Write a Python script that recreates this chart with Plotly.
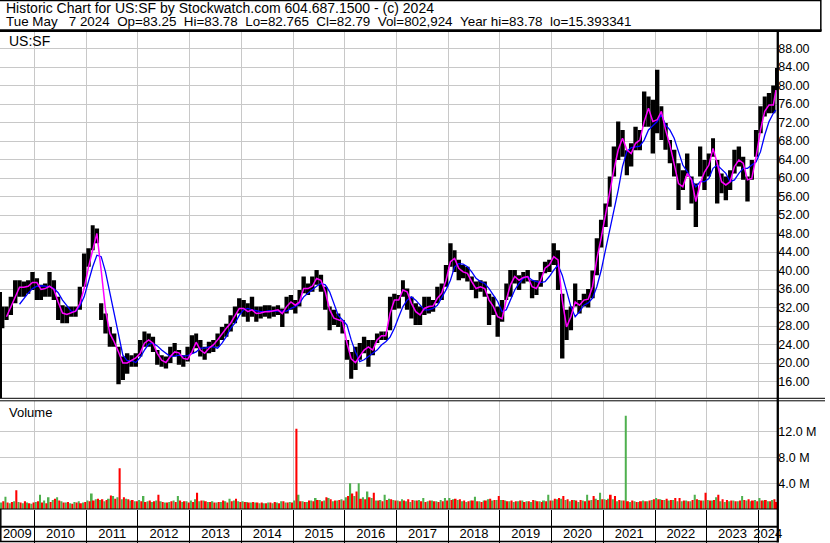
import pandas as pd
import plotly.graph_objects as go

# ------------------------------------------------------------------
# Data, one value per month (May 2009 .. May 2024)
# ------------------------------------------------------------------
MONTHS = pd.date_range("2009-05-01", "2024-05-01", freq="MS")
LAST_DAY = pd.Timestamp("2024-05-08")   # data ends on Tue May 7 2024

# visible high / low envelope of the daily bars in each month
HI = [
    32.2, 32.2, 34.3, 37.9, 37.9, 37.6, 37.9, 39.7,
    38.3, 36.9, 37.2, 39.7, 37.9, 34.3, 32.5, 32.2, 32.2, 32.2, 36.5, 43.7,
    44.8, 49.8, 49.1, 32.9, 30.7, 27.8, 26.4, 23.5, 21.4, 22.1, 21.7, 22.1,
    25.0, 26.8, 26.4, 25.7, 22.8, 21.7, 21.4, 23.5, 24.3, 22.8, 21.7, 23.5,
    26.0, 26.4, 25.0, 23.5, 24.6, 25.0, 26.4, 27.8, 28.5, 30.3, 32.2, 34.0,
    33.6, 32.9, 34.3, 32.2, 32.2, 32.5, 32.5, 32.2, 32.5, 31.8, 34.3, 34.7,
    33.6, 35.8, 38.7, 37.2, 38.7, 40.1, 39.1, 36.5, 32.2, 31.5, 30.7, 29.3,
    25.0, 22.4, 23.5, 24.3, 25.7, 25.0, 25.0, 26.4, 26.8, 26.8, 34.3, 35.0,
    34.7, 37.9, 36.1, 34.3, 32.9, 32.2, 34.3, 34.3, 33.6, 36.5, 37.2, 41.2,
    45.9, 44.4, 42.3, 41.2, 40.8, 38.7, 37.6, 37.9, 37.6, 35.0, 34.3, 32.2,
    33.6, 37.2, 40.1, 40.1, 39.0, 39.7, 40.1, 37.9, 37.9, 39.7, 41.9, 42.3,
    45.9, 44.4, 35.0, 31.5, 32.2, 37.2, 33.6, 35.0, 36.0, 40.0, 47.0, 51.0,
    54.5, 60.3, 66.8, 72.2, 70.4, 66.0, 67.5, 71.1, 70.4, 78.7, 77.6, 76.9,
    83.4, 75.5, 71.9, 68.2, 66.1, 63.2, 61.7, 65.3, 60.3, 58.8, 66.8, 63.9,
    65.3, 68.6, 63.9, 61.0, 60.3, 61.7, 66.1, 66.8, 64.6, 60.3, 63.9, 70.4,
    75.5, 77.6, 78.4, 80.0, 83.8,
]
LO = [
    27.5, 29.3, 30.4, 32.9, 34.3, 34.3, 35.0, 35.8,
    33.6, 33.6, 34.3, 34.3, 33.6, 29.3, 28.6, 28.6, 30.0, 30.0, 31.5, 36.5,
    40.8, 44.4, 45.9, 29.3, 26.4, 23.5, 23.5, 15.4, 16.3, 17.7, 19.2, 19.2,
    21.4, 23.5, 23.5, 22.4, 19.6, 19.2, 18.8, 20.0, 21.4, 19.6, 19.2, 20.3,
    22.1, 23.2, 21.4, 20.7, 22.1, 22.4, 23.5, 25.0, 25.7, 26.8, 28.6, 30.7,
    30.0, 28.9, 30.0, 28.9, 29.6, 30.0, 29.6, 30.0, 30.4, 27.8, 30.7, 31.5,
    30.7, 32.2, 35.1, 34.7, 35.4, 36.9, 35.4, 31.5, 27.1, 28.2, 27.8, 26.4,
    20.7, 16.6, 18.5, 20.7, 22.1, 19.2, 21.7, 24.3, 25.0, 25.0, 27.1, 31.5,
    31.8, 34.3, 31.5, 29.6, 28.2, 28.2, 30.4, 30.7, 31.1, 32.9, 33.6, 36.5,
    40.8, 39.7, 37.9, 38.3, 37.6, 35.8, 34.0, 35.4, 34.3, 28.2, 30.4, 25.7,
    28.9, 33.6, 34.3, 37.2, 35.8, 37.2, 37.6, 34.0, 34.7, 36.5, 39.4, 39.7,
    41.2, 35.8, 21.0, 25.0, 27.1, 32.2, 30.7, 32.2, 32.0, 34.0, 39.0, 45.0,
    49.4, 53.8, 60.3, 63.9, 64.6, 60.6, 62.5, 66.0, 66.0, 71.1, 71.1, 65.3,
    69.7, 68.2, 66.1, 63.2, 60.3, 53.1, 57.4, 60.3, 54.5, 49.4, 60.3, 57.4,
    60.3, 64.6, 54.5, 56.7, 55.2, 57.4, 61.0, 62.5, 59.6, 54.9, 59.6, 64.6,
    69.7, 73.3, 74.0, 74.0, 79.0,
]

# short moving average (magenta)
MA_FAST = [
    None, 30.0, 32.2, 34.3, 36.4, 36.4, 36.6, 37.4,
    37.4, 35.9, 36.1, 36.6, 35.9, 33.2, 30.8, 30.5, 30.8, 31.2, 32.8, 36.1,
    40.8, 44.4, 48.0, 40.0, 31.5, 26.4, 24.6, 22.4, 20.0, 20.0, 20.5, 21.1,
    22.1, 24.3, 25.0, 24.3, 22.1, 20.6, 20.1, 21.4, 22.4, 22.2, 21.0, 20.8,
    22.4, 24.5, 22.8, 22.1, 23.2, 23.9, 25.0, 26.4, 27.5, 28.6, 30.3, 31.8,
    31.8, 31.1, 31.5, 30.7, 30.8, 31.1, 31.1, 31.3, 31.5, 30.7, 32.2, 33.2,
    32.5, 33.2, 36.1, 36.1, 36.6, 38.3, 37.9, 35.4, 31.5, 29.7, 29.3, 29.0,
    24.3, 20.9, 20.1, 21.4, 22.8, 23.5, 22.8, 25.0, 25.9, 25.9, 30.7, 33.6,
    33.6, 35.8, 35.4, 32.9, 31.1, 30.4, 31.8, 32.2, 32.3, 34.0, 35.1, 37.9,
    41.9, 42.6, 40.5, 39.7, 39.4, 37.6, 36.1, 36.5, 36.1, 33.6, 32.2, 30.0,
    29.6, 33.6, 36.9, 38.7, 37.9, 38.5, 38.7, 36.5, 36.1, 37.9, 40.5, 41.2,
    43.0, 42.3, 33.6, 27.8, 30.0, 33.2, 32.5, 33.6, 33.8, 36.5, 42.5, 47.0,
    52.3, 56.7, 61.7, 66.1, 68.6, 66.1, 65.3, 67.5, 68.2, 72.2, 75.1, 72.2,
    72.6, 74.4, 70.4, 67.2, 63.2, 58.8, 58.1, 61.0, 59.6, 54.9, 58.8, 61.3,
    62.8, 66.4, 63.2, 59.2, 58.5, 59.2, 62.5, 63.9, 63.2, 59.6, 59.9, 64.6,
    70.4, 74.4, 75.8, 75.8, 79.0,
]

# long moving average (blue)
MA_SLOW = [
    None, None, None, None, 32.7, 34.0, 35.1, 36.1,
    36.6, 36.7, 36.6, 36.5, 36.1, 35.2, 33.6, 32.3, 31.2, 31.1, 32.3, 34.3,
    37.6, 40.8, 43.3, 43.0, 39.7, 35.1, 30.7, 25.7, 21.7, 20.5, 20.5, 20.1,
    21.2, 22.8, 24.1, 24.3, 23.7, 22.8, 22.0, 21.4, 21.5, 21.7, 21.5, 21.6,
    22.0, 22.4, 23.2, 23.2, 23.5, 23.5, 23.2, 24.3, 25.7, 27.5, 28.6, 30.3,
    31.5, 31.8, 31.5, 31.3, 31.1, 31.1, 31.3, 31.2, 31.2, 31.1, 31.2, 31.8,
    32.2, 32.9, 34.3, 35.1, 35.9, 36.6, 37.2, 36.9, 35.4, 32.9, 30.3, 29.3,
    28.2, 25.0, 22.4, 20.3, 20.7, 21.4, 22.1, 22.8, 23.9, 24.6, 25.6, 27.5,
    30.0, 32.2, 33.6, 34.3, 33.6, 32.5, 31.5, 31.5, 31.8, 32.5, 34.0, 35.8,
    37.9, 40.8, 41.5, 41.4, 40.8, 39.7, 38.3, 37.6, 37.2, 36.1, 34.7, 33.3,
    31.1, 31.5, 33.6, 35.8, 37.2, 38.3, 38.7, 37.9, 37.6, 37.4, 37.6, 38.7,
    40.1, 41.2, 39.0, 35.8, 32.2, 30.0, 31.1, 32.5, 33.0, 34.0, 36.5, 40.0,
    44.4, 48.4, 53.1, 57.4, 62.5, 65.7, 66.6, 66.8, 66.9, 68.2, 70.4, 71.3,
    72.2, 73.7, 71.5, 70.4, 68.6, 65.7, 62.8, 61.4, 59.9, 58.1, 59.2, 59.2,
    59.9, 62.1, 62.8, 61.9, 61.0, 59.2, 59.6, 61.0, 62.1, 62.1, 62.8, 63.5,
    65.7, 69.3, 72.2, 74.0, 74.7,
]

# tallest up-day (green) and down-day (red) volume bar in each month, millions
VOL_UP = [
    1.0, 1.9, 0.9, 1.2, 1.1, 0.9, 1.0, 0.8,
    1.1, 2.2, 1.3, 1.8, 1.4, 1.8, 1.2, 1.0, 0.9, 1.1, 1.2, 1.0,
    1.3, 2.4, 1.5, 1.4, 1.2, 1.6, 2.0, 1.8, 1.5, 1.6, 1.3, 1.2,
    1.4, 2.0, 1.2, 1.1, 1.3, 1.2, 1.0, 1.1, 1.3, 2.0, 1.1, 1.2,
    1.3, 1.5, 1.2, 1.3, 1.1, 1.2, 1.0, 1.1, 1.2, 1.6, 1.3, 1.2,
    1.2, 1.1, 1.0, 1.0, 0.9, 0.9, 1.0, 0.9, 1.0, 1.2, 1.0, 1.1,
    1.3, 2.2, 1.2, 1.1, 1.3, 1.7, 1.4, 1.3, 1.7, 1.2, 1.3, 1.5,
    1.8, 4.0, 2.0, 4.0, 1.8, 2.7, 1.7, 1.3, 1.4, 2.2, 1.6, 1.4,
    1.3, 1.5, 1.2, 1.1, 1.3, 1.4, 1.7, 1.2, 1.3, 1.2, 1.4, 1.7,
    1.7, 1.5, 1.4, 1.2, 1.1, 1.3, 1.9, 1.2, 1.3, 1.5, 1.3, 1.4,
    1.4, 1.3, 1.2, 1.1, 1.2, 1.3, 1.2, 1.1, 1.3, 1.2, 1.3, 2.2,
    1.3, 1.5, 1.6, 1.4, 1.2, 1.4, 1.1, 1.3, 2.2, 1.4, 1.6, 2.5,
    1.5, 1.6, 1.5, 1.2, 1.3, 14.4, 1.1, 1.2, 1.1, 1.3, 1.2, 1.4,
    1.7, 1.5, 1.4, 1.3, 1.4, 1.2, 1.2, 1.3, 1.2, 2.2, 1.4, 1.3,
    1.4, 1.3, 1.8, 1.2, 1.1, 1.2, 1.3, 1.2, 2.0, 1.3, 1.2, 1.4,
    1.7, 1.3, 1.2, 1.4, 1.0,
]
VOL_DN = [
    1.2, 1.0, 1.1, 2.9, 1.0, 1.2, 0.9, 1.0,
    1.2, 1.0, 0.9, 1.1, 1.6, 1.3, 1.0, 1.1, 0.8, 1.0, 0.9, 1.1,
    1.2, 1.3, 1.6, 1.5, 1.4, 2.1, 1.6, 6.3, 1.8, 1.5, 1.4, 1.2,
    1.2, 1.1, 1.3, 1.2, 2.2, 1.1, 1.0, 1.2, 1.1, 1.3, 1.2, 1.0,
    1.1, 2.5, 1.3, 1.2, 1.1, 1.0, 1.1, 1.3, 1.0, 1.2, 1.6, 1.1,
    1.1, 1.0, 1.1, 1.0, 1.0, 0.9, 1.0, 1.1, 0.9, 1.2, 1.0, 1.0,
    12.4, 1.2, 1.1, 1.3, 1.2, 1.4, 1.2, 1.8, 1.5, 1.3, 1.4, 1.3,
    2.0, 2.4, 2.7, 1.6, 1.5, 1.8, 2.5, 1.3, 1.2, 1.4, 1.5, 1.3,
    1.2, 1.3, 1.5, 1.4, 1.3, 1.2, 1.1, 1.3, 1.2, 1.1, 1.2, 1.3,
    1.4, 1.6, 1.5, 1.3, 1.2, 1.3, 1.2, 1.1, 1.3, 1.6, 1.4, 2.0,
    1.4, 1.2, 1.3, 1.2, 1.3, 1.1, 1.2, 1.4, 1.2, 1.1, 1.2, 1.3,
    1.6, 1.7, 2.0, 1.5, 1.4, 1.3, 1.4, 1.2, 1.3, 2.0, 1.4, 1.5,
    1.4, 2.2, 2.0, 1.4, 1.3, 1.2, 1.3, 1.1, 1.2, 1.2, 1.3, 1.5,
    1.5, 1.4, 1.6, 1.4, 1.7, 1.7, 1.3, 1.2, 1.4, 1.5, 1.3, 2.5,
    1.3, 1.4, 2.2, 1.5, 1.4, 1.3, 1.2, 1.3, 1.4, 1.5, 1.3, 1.2,
    1.3, 1.4, 1.2, 1.5, 1.1,
]

PRICE_TICKS = list(range(16, 89, 4))
VOL_TICKS = [4, 8, 12]
YEARS = list(range(2009, 2025))

TITLE = "Historic Chart for US:SF by Stockwatch.com 604.687.1500 - (c) 2024"
NB = "\u00a0"
SUBTITLE = (f"Tue May{NB*3}7 2024{NB*2}Op=83.25{NB*2}Hi=83.78{NB*2}Lo=82.765"
            f"{NB*2}Cl=82.79{NB*2}Vol=802,924{NB*2}Year hi=83.78{NB*2}lo=15.393341")

# ------------------------------------------------------------------
# Layout constants (pixels of the 830 x 543 picture)
# ------------------------------------------------------------------
W, H = 830, 543
X_RIGHT = 782.0
X_START = pd.Timestamp("2009-05-01")
X_END = pd.Timestamp("2024-05-14")
DAY_MS = 86400000
FONT = "Arial, 'Liberation Sans', sans-serif"
GRID = "#c8c8c8"
GREEN = "#4fb04f"
RED = "#ff0000"


def px(x):
    return x / W


def py(y):
    return 1 - y / H


# each month's span on the time axis (the last month stops at the last trading day)
starts = list(MONTHS)
ends = [min(s + pd.offsets.MonthBegin(1), LAST_DAY) for s in starts]
spans = [e - s for s, e in zip(starts, ends)]
mid = [s + d / 2 for s, d in zip(starts, spans)]
span_ms = [d.total_seconds() * 1000 for d in spans]

fig = go.Figure()

# price bars (high-low envelope)
fig.add_trace(go.Bar(
    x=mid, y=[h - l for h, l in zip(HI, LO)], base=LO,
    width=span_ms, marker=dict(color="black", line=dict(width=0)),
    xaxis="x2", yaxis="y", hoverinfo="skip",
))
fig.add_trace(go.Scatter(
    x=mid, y=MA_SLOW, mode="lines", line=dict(color="#0000ff", width=1.3),
    xaxis="x2", yaxis="y", hoverinfo="skip",
))
fig.add_trace(go.Scatter(
    x=mid, y=MA_FAST, mode="lines", line=dict(color="#ff00ff", width=1.5),
    xaxis="x2", yaxis="y", hoverinfo="skip",
))

# volume bars: up days in the first half of each month, down days in the second
fig.add_trace(go.Bar(
    x=[s + d / 4 for s, d in zip(starts, spans)], y=VOL_UP,
    width=[w * 0.47 for w in span_ms],
    marker=dict(color=GREEN, line=dict(width=0)),
    xaxis="x", yaxis="y2", hoverinfo="skip",
))
fig.add_trace(go.Bar(
    x=[s + d * 3 / 4 for s, d in zip(starts, spans)], y=VOL_DN,
    width=[w * 0.47 for w in span_ms],
    marker=dict(color=RED, line=dict(width=0)),
    xaxis="x", yaxis="y2", hoverinfo="skip",
))

# invisible trace so the year-label axis gets drawn
fig.add_trace(go.Scatter(x=[X_START], y=[0], mode="markers", marker=dict(opacity=0),
                         xaxis="x3", yaxis="y2", hoverinfo="skip"))

# year labels centred in the visible part of each year
year_mid = []
for yr in YEARS:
    a = max(pd.Timestamp(f"{yr}-01-01"), X_START)
    b = min(pd.Timestamp(f"{yr + 1}-01-01"), X_END)
    year_mid.append(a + (b - a) / 2)

dom_x = [0, px(X_RIGHT)]
year_grid = dict(tick0="2010-01-01", dtick="M12", showgrid=True, gridcolor=GRID,
                 gridwidth=1, zeroline=False, showticklabels=False)

fig.update_layout(
    width=W, height=H,
    margin=dict(l=0, r=0, t=0, b=0),
    paper_bgcolor="white", plot_bgcolor="white",
    showlegend=False, barmode="overlay",
    font=dict(family=FONT, color="black", size=13),
    xaxis=dict(domain=dom_x, type="date", range=[X_START, X_END], anchor="y2",
               ticks="outside", ticklen=33, tickcolor="black", tickwidth=1,
               **year_grid),
    xaxis2=dict(domain=dom_x, type="date", range=[X_START, X_END], anchor="y",
                matches="x", ticks="", **year_grid),
    xaxis3=dict(domain=dom_x, type="date", range=[X_START, X_END],
                overlaying="x", anchor="free", position=py(524),
                tickvals=year_mid, ticktext=[str(y) for y in YEARS],
                ticks="", showgrid=False, zeroline=False,
                tickfont=dict(family=FONT, size=13, color="black")),
    yaxis=dict(domain=[py(398.3), py(32)], range=[12.37, 91.57], side="right",
               anchor="x2", tickvals=PRICE_TICKS,
               ticktext=[f"{v:.2f}" for v in PRICE_TICKS],
               ticks="", showgrid=True, gridcolor=GRID, zeroline=False,
               tickfont=dict(family=FONT, size=12.5, color="black")),
    yaxis2=dict(domain=[py(509), py(401)], range=[0, 16.7], side="right",
                anchor="x", tickvals=VOL_TICKS,
                ticktext=[f"{v:.1f} M" for v in VOL_TICKS],
                ticks="", showgrid=True, gridcolor=GRID, zeroline=False,
                tickfont=dict(family=FONT, size=12.5, color="black")),
)


def hline(y, x0, x1, w=1.0):
    fig.add_shape(type="line", xref="paper", yref="paper",
                  x0=px(x0), x1=px(x1), y0=py(y), y1=py(y),
                  line=dict(color="black", width=w))


def vline(x, y0, y1, w=1.0):
    fig.add_shape(type="line", xref="paper", yref="paper",
                  x0=px(x), x1=px(x), y0=py(y0), y1=py(y1),
                  line=dict(color="black", width=w))


# header box and panel frames
hline(0.6, 0, 826, 1.2)
vline(825.8, 0, 31, 1.5)
hline(30.7, 0, 826.5, 2.7)
vline(X_RIGHT + 0.5, 31, 542.5, 2.3)
hline(398.3, 0, 830, 1)
hline(400.8, 0, 830, 1)
hline(509, 0, X_RIGHT, 1.2)
hline(526.7, 0, X_RIGHT, 2)
hline(541.6, 0, X_RIGHT, 1.5)
vline(0.8, 509, 542, 1.5)
vline(1.0, 292, 398, 2)

fig.add_annotation(x=px(5), y=py(7.6), xref="paper", yref="paper", text=TITLE,
                   showarrow=False, xanchor="left", yanchor="middle", borderpad=0,
                   font=dict(family=FONT, size=14, color="black"))
fig.add_annotation(x=px(5), y=py(21.9), xref="paper", yref="paper", text=SUBTITLE,
                   showarrow=False, xanchor="left", yanchor="middle", borderpad=0,
                   font=dict(family=FONT, size=13.4, color="black"))
fig.add_annotation(x=px(7), y=py(41.5), xref="paper", yref="paper", text="US:SF",
                   showarrow=False, xanchor="left", yanchor="middle",
                   font=dict(family=FONT, size=14, color="black"))
fig.add_annotation(x=px(7), y=py(413), xref="paper", yref="paper", text="Volume",
                   showarrow=False, xanchor="left", yanchor="middle",
                   font=dict(family=FONT, size=13, color="black"))

# the page body keeps a default 8px margin; drop it so the figure fills the window
fig.write_html("out.html", config={"displayModeBar": False},
               post_script="document.body.style.margin='0px';")
